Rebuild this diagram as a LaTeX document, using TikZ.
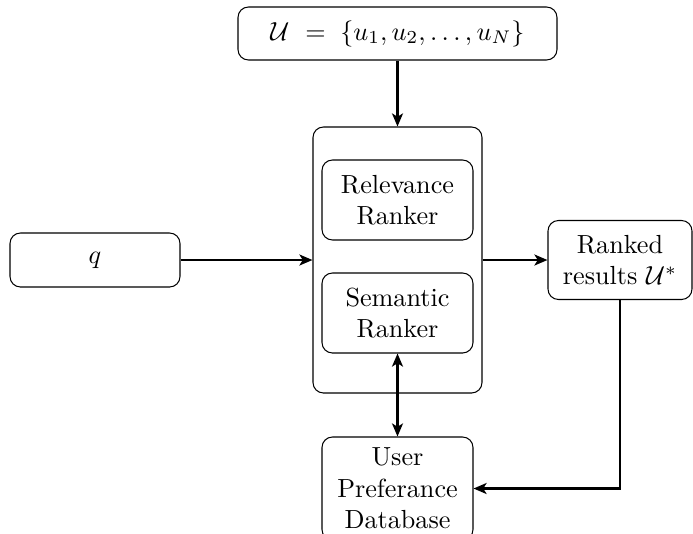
\documentclass[tikz,border=0pt]{standalone}
\usepackage{amsmath}
\usetikzlibrary{arrows.meta}
\begin{document}
\begin{tikzpicture}[x=0.382pt,y=-0.382pt,
  box/.style={draw,rounded corners=4pt,align=center,inner sep=0pt,line width=0.4pt},
  arr/.style={-{Stealth[length=5pt,width=4.2pt,inset=1.3pt]},thick},
  darr/.style={{Stealth[length=5pt,width=4.2pt,inset=1.3pt]}-{Stealth[length=5pt,width=4.2pt,inset=1.3pt]},thick}]
\useasboundingbox (0,0) rectangle (693,533);
\node[box,minimum width={169*0.382pt},minimum height={266*0.382pt}] (main) at (397.5,260) {};
\node[box,minimum width={319*0.382pt},minimum height={53*0.382pt}] (top) at (397.5,33.5) {$\mathcal{U}\ =\;\{u_1,u_2,\ldots,u_N\}$};
\node[box,minimum width={151*0.382pt},minimum height={80*0.382pt}] (rel) at (397.5,200) {Relevance\\Ranker};
\node[box,minimum width={151*0.382pt},minimum height={80*0.382pt}] (sem) at (397.5,313) {Semantic\\Ranker};
\node[box,minimum width={151*0.382pt},minimum height={103*0.382pt}] (db) at (397.5,488.5) {User\\Preferance\\Database};
\node[box,minimum width={170*0.382pt},minimum height={54*0.382pt}] (q) at (95,260) {$q$};
\node[box,minimum width={144*0.382pt},minimum height={79*0.382pt}] (ranked) at (620,260) {Ranked\\results $\mathcal{U}^*$};
\draw[arr] (top.south) -- (main.north);
\draw[arr] (q.east) -- (main.west);
\draw[arr] (main.east) -- (ranked.west);
\draw[darr] (sem.south) -- (db.north);
\draw[arr] (ranked.south) |- (db.east);
\end{tikzpicture}
\end{document}
